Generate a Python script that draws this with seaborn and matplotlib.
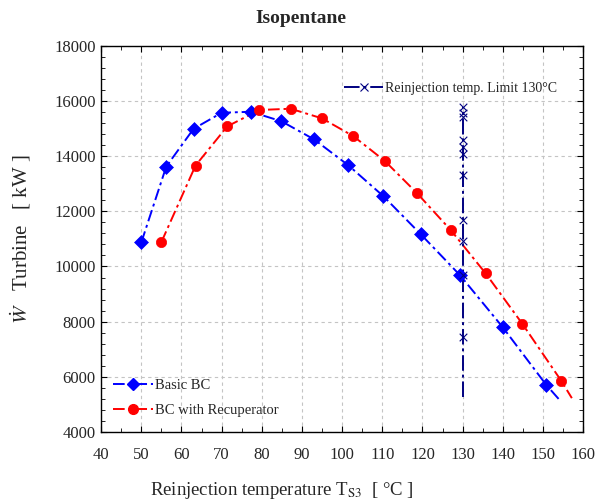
import matplotlib
matplotlib.use("Agg")
import matplotlib.pyplot as plt
from matplotlib.lines import Line2D
from matplotlib.ticker import MultipleLocator
import seaborn as sns
import pandas as pd

# ---- data ----
basic_T = [50.0, 56.2, 63.0, 70.0, 77.3, 84.9, 93.0, 101.5, 110.3, 119.6, 129.4, 140.0, 150.8]
basic_W = [10870, 13620, 14990, 15575, 15610, 15265, 14610, 13675, 12545, 11165, 9675, 7795, 5710]
basic_end_T = 154.1
basic_end_W = 5165

recup_T = [55.0, 63.5, 71.4, 79.4, 87.2, 95.0, 102.8, 110.6, 118.6, 127.1, 135.7, 144.9, 154.6]
recup_W = [10885, 13660, 15080, 15675, 15720, 15370, 14725, 13830, 12665, 11310, 9755, 7915, 5845]
recup_end_T = 157.2
recup_end_W = 5225

limit_T = 130
limit_line_W = [5250, 15795]
limit_marks_W = [15795, 15550, 15405, 14580, 14340, 14075, 13335, 11675, 10910, 9675, 7430]

title = "Isopentane"
xlabel = r"Reinjection temperature T$_{\mathrm{S3}}$  [ °C ]"
ylabel = r"$\dot{W}$   Turbine   [ kW ]"
label_basic = "Basic BC"
label_recup = "BC with Recuperator"
label_limit = "Reinjection temp. Limit 130°C"

# ---- style ----
sns.set_style("ticks")
plt.rcParams["font.family"] = ["Liberation Serif", "DejaVu Serif"]
plt.rcParams["mathtext.fontset"] = "stix"

fig = plt.figure(figsize=(5.95, 5.04), dpi=100)
ax = fig.add_axes([0.170, 0.143, 0.810, 0.766])

BLUE = "#0000FF"
RED = "#FF0000"
NAVY = "#000080"
DASH = (6, 2, 1.5, 2)

# lines
df_b = pd.DataFrame({"T": basic_T + [basic_end_T], "W": basic_W + [basic_end_W]})
df_r = pd.DataFrame({"T": recup_T + [recup_end_T], "W": recup_W + [recup_end_W]})
sns.lineplot(data=df_b, x="T", y="W", ax=ax, color=BLUE, lw=1.4, estimator=None, sort=False)
ax.lines[-1].set_dashes(DASH)
sns.lineplot(data=df_r, x="T", y="W", ax=ax, color=RED, lw=1.4, estimator=None, sort=False)
ax.lines[-1].set_dashes(DASH)

# markers
sns.scatterplot(x=basic_T, y=basic_W, ax=ax, color=BLUE, marker="D", s=50, edgecolor=BLUE, linewidth=0.5, zorder=3)
sns.scatterplot(x=recup_T, y=recup_W, ax=ax, color=RED, marker="o", s=55, edgecolor=RED, linewidth=0.5, zorder=3)

# vertical limit line
sns.lineplot(x=[limit_T] * len(limit_line_W), y=limit_line_W, ax=ax, color=NAVY, lw=1.4,
             estimator=None, sort=False)
ax.lines[-1].set_dashes((8, 2, 1.5, 2))
sns.scatterplot(x=[limit_T] * len(limit_marks_W), y=limit_marks_W, ax=ax, color=NAVY,
                marker="x", s=30, linewidth=0.8, zorder=3)

# axes
ax.set_xlim(40, 160)
ax.set_ylim(4000, 18000)
ax.xaxis.set_major_locator(MultipleLocator(10))
ax.xaxis.set_minor_locator(MultipleLocator(5))
ax.yaxis.set_major_locator(MultipleLocator(2000))
ax.yaxis.set_minor_locator(MultipleLocator(400))
ax.grid(True, which="major", color="#c4c4c4", linestyle=(0, (3, 3)), linewidth=0.8)
ax.set_axisbelow(True)
ax.tick_params(which="both", direction="in", top=True, right=True, color="black")
ax.tick_params(which="major", length=4, width=0.8, labelsize=12)
ax.tick_params(which="minor", length=3, width=0.6)
ax.tick_params(axis="x", which="major", pad=11)
ax.tick_params(axis="y", which="major", pad=4)
for s in ax.spines.values():
    s.set_color("black")
    s.set_linewidth(1.0)

ax.set_xlabel(xlabel, fontsize=13.5)
ax.xaxis.set_label_coords(0.375, -0.124)
ax.set_ylabel(ylabel, fontsize=15)
ax.yaxis.set_label_coords(-0.141, 0.5)

fig.text(0.506, 0.964, title, fontsize=14, fontweight="bold", ha="center", va="center")

# legends
h_limit = Line2D([], [], color=NAVY, lw=1.4, dashes=(8, 2, 1.5, 2), marker="x", markersize=6, markeredgewidth=0.8)
leg1 = ax.legend([h_limit], [label_limit], loc="center left", bbox_to_anchor=(0.49, 0.889),
                 frameon=False, fontsize=10, handlelength=2.8, handletextpad=0.15, borderpad=0)
ax.add_artist(leg1)

h_b = Line2D([], [], color=BLUE, lw=1.4, dashes=DASH, marker="D", markersize=6)
h_r = Line2D([], [], color=RED, lw=1.4, dashes=DASH, marker="o", markersize=7)
ax.legend([h_b, h_r], [label_basic, label_recup], loc="center left", bbox_to_anchor=(0.01, 0.088),
          frameon=False, fontsize=10.5, handlelength=2.7, handletextpad=0.15, borderpad=0,
          labelspacing=0.75)

fig.savefig("out.png", dpi=100)
